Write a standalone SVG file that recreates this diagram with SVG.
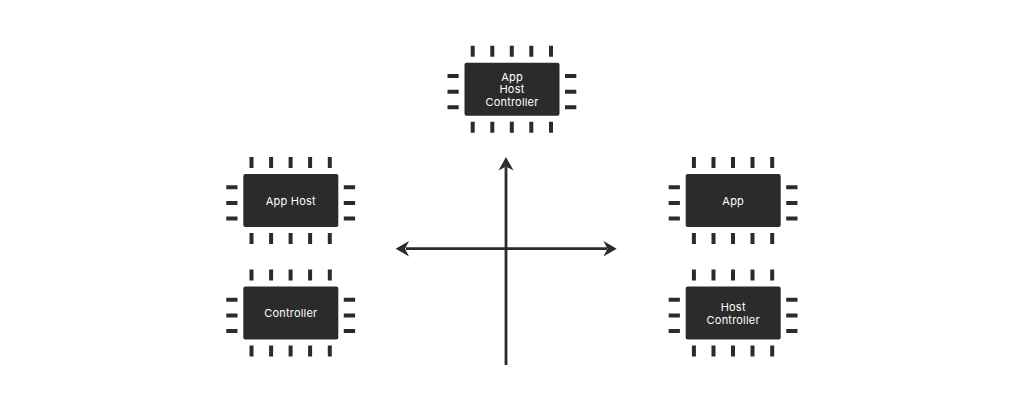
<svg xmlns="http://www.w3.org/2000/svg" xmlns:xlink="http://www.w3.org/1999/xlink" width="1024" height="410" viewBox="0 0 1024 410">
<style>
.body{fill:#2b2b2b}
.pin{fill:none;stroke:#2b2b2b;stroke-width:4}
.axis{fill:none;stroke:#2b2b2b;stroke-width:2.8}
.head{fill:#2b2b2b}
text{font-family:"Inter","Open Sans","Liberation Sans",sans-serif;font-size:11px;font-weight:400;letter-spacing:.2px;fill:#fff;text-anchor:middle}
</style>
<defs>
<g id="chip">
<rect class="body" width="95" height="53" rx="2"/>
<path class="pin" d="M8.2-17V-6M27.8-17V-6M47.3-17V-6M66.8-17V-6M86.5-17V-6M8.2 59V70M27.8 59V70M47.3 59V70M66.8 59V70M86.5 59V70M-17 13.3H-5.8M-17 29H-5.8M-17 44.6H-5.8M100.5 13.3H111.8M100.5 29H111.8M100.500 44.600H111.800"/>
</g>
</defs>
<rect width="1024" height="410" fill="#fff"/>
<g id="connectors">
<path class="axis" d="M506 365V167"/>
<path class="axis" d="M406 248.700H607"/>
<path class="head" d="M506 157L513.500 170.500L506 166.500L498.500 170.500Z"/>
<path class="head" d="M395.700 248.700L409 241L405 248.700L409 256.400Z"/>
<path class="head" d="M616.700 248.700L603.500 241L607.500 248.700L603.500 256.400Z"/>
</g>
<g id="node-app-host-controller" transform="translate(464.500 62.700)">
<use href="#chip" xlink:href="#chip"/>
<text x="47.500" y="18">App</text>
<text x="47.500" y="30.500">Host</text>
<text x="47.500" y="43">Controller</text>
</g>
<g id="node-app-host" transform="translate(243.300 174)">
<use href="#chip" xlink:href="#chip"/>
<text x="47.500" y="30.500">App Host</text>
</g>
<g id="node-controller" transform="translate(243.300 286.500)">
<use href="#chip" xlink:href="#chip"/>
<text x="47.500" y="30.500">Controller</text>
</g>
<g id="node-app" transform="translate(685.700 174)">
<use href="#chip" xlink:href="#chip"/>
<text x="47.500" y="30.500">App</text>
</g>
<g id="node-host-controller" transform="translate(685.700 286.500)">
<use href="#chip" xlink:href="#chip"/>
<text x="47.500" y="24.500">Host</text>
<text x="47.500" y="37">Controller</text>
</g>
</svg>
